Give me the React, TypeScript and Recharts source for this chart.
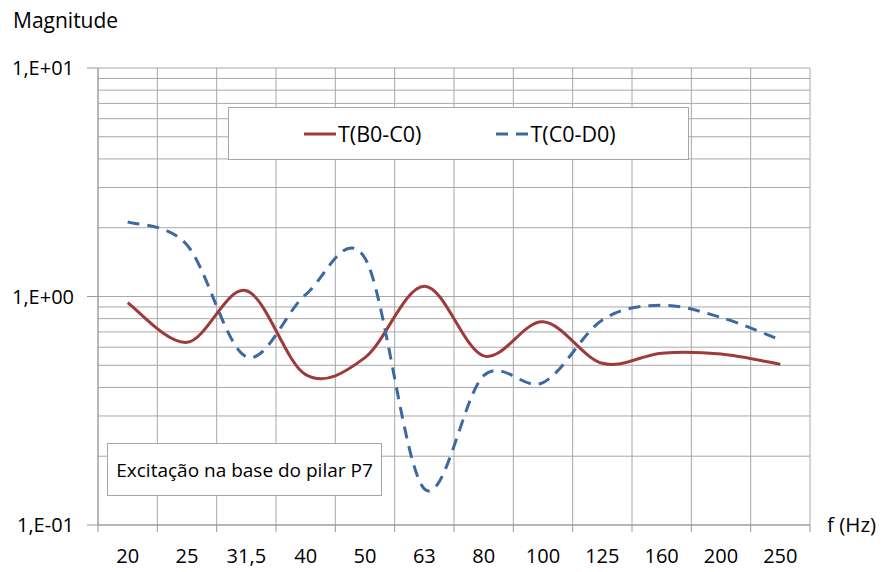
import React from "react";
import { LineChart, Line, XAxis, YAxis, CartesianGrid, Legend } from "recharts";

const categories = ["20", "25", "31,5", "40", "50", "63", "80", "100", "125", "160", "200", "250"];
const seriesBC = [0.94, 0.63, 1.06, 0.455, 0.54, 1.11, 0.55, 0.775, 0.51, 0.565, 0.56, 0.505];
const seriesCD = [2.12, 1.68, 0.545, 1.02, 1.47, 0.144, 0.45, 0.42, 0.79, 0.915, 0.81, 0.645];
const majorTicks = [0.1, 1, 10];
const yTickLabels = ["1,E-01", "1,E+00", "1,E+01"];
const gridValues = [0.1, 0.2, 0.3, 0.4, 0.5, 0.6, 0.7, 0.8, 0.9, 1, 2, 3, 4, 5, 6, 7, 8, 9, 10];
const seriesNames = ["T(B0-C0)", "T(C0-D0)"];
const annotation = "Excitação na base do pilar P7";

const W = 883;
const H = 572;
const M = { top: 68, right: 73, left: 0, bottom: 0 };
const Y_W = 98;
const X_H = 47;
const PLOT_W = W - M.left - M.right - Y_W;
const BAND = PLOT_W / categories.length;
const FONT = "'Open Sans', sans-serif";
const RED = "#9c3b39";
const BLUE = "#3c6aa0";

const data = categories.map((c, i) => ({ x: i + 0.5, cat: c, bc: seriesBC[i], cd: seriesCD[i] }));
const xTicks = categories.map((_, i) => i).concat([categories.length]);

// Excel-like smoothing (Bezier with control points at 1/6 of neighbour span)
function excelCurve(context: any) {
  let pts: number[][] = [];
  return {
    areaStart() {},
    areaEnd() {},
    lineStart() {
      pts = [];
    },
    point(x: number, y: number) {
      pts.push([+x, +y]);
    },
    lineEnd() {
      const n = pts.length;
      if (!n) return;
      context.moveTo(pts[0][0], pts[0][1]);
      for (let i = 0; i < n - 1; i++) {
        const p0 = pts[Math.max(0, i - 1)];
        const p1 = pts[i];
        const p2 = pts[i + 1];
        const p3 = pts[Math.min(n - 1, i + 2)];
        context.bezierCurveTo(
          p1[0] + (p2[0] - p0[0]) / 6,
          p1[1] + (p2[1] - p0[1]) / 6,
          p2[0] - (p3[0] - p1[0]) / 6,
          p2[1] - (p3[1] - p1[1]) / 6,
          p2[0],
          p2[1]
        );
      }
    },
  };
}

const XTick = (props: any) => {
  const { x, y, payload } = props;
  const i = payload.value;
  if (i >= categories.length) return null;
  return (
    <text x={x + BAND / 2} y={y} dy="0.71em" textAnchor="middle" fontFamily={FONT} fontSize={20} fill="#000">
      {categories[i]}
    </text>
  );
};

const YTick = (props: any) => {
  const { x, y, payload } = props;
  const idx = majorTicks.findIndex((t) => Math.abs(t - payload.value) < 1e-9);
  if (idx < 0) return null;
  return (
    <g>
      <line x1={Y_W - 11} x2={Y_W} y1={y} y2={y} stroke="#999" strokeWidth={1} />
      <text x={x} y={y} dy="0.355em" textAnchor="end" fontFamily={FONT} fontSize={20} fill="#000">
        {yTickLabels[idx]}
      </text>
    </g>
  );
};

const LegendContent = (props: any) => {
  const { payload } = props;
  return (
    <div
      style={{
        width: 459,
        height: 51,
        border: "1px solid #a6a6a6",
        background: "#fff",
        display: "flex",
        alignItems: "center",
        fontFamily: FONT,
        fontSize: 21.5,
        color: "#000",
        boxSizing: "content-box",
      }}
    >
      {(payload || []).map((p: any, i: number) => (
        <div key={i} style={{ display: "flex", alignItems: "center", marginLeft: 75 }}>
          <svg width={32} height={10} style={{ marginRight: 2 }}>
            <line
              x1={0}
              x2={32}
              y1={5}
              y2={5}
              stroke={p.color}
              strokeWidth={3}
              strokeDasharray={p.payload && p.payload.strokeDasharray ? "12 8" : undefined}
            />
          </svg>
          <span>{p.value}</span>
        </div>
      ))}
    </div>
  );
};

export default function App() {
  return (
    <div style={{ position: "absolute", left: 0, top: 0, width: W, height: H, background: "#fff" }}>
      <LineChart width={W} height={H} data={data} margin={M}>
        <CartesianGrid stroke="#a8a8a8" vertical={true} horizontal={true} fill="none" />
        <XAxis
          dataKey="x"
          type="number"
          domain={[0, categories.length]}
          ticks={xTicks}
          interval={0}
          height={X_H}
          tickSize={7}
          tickMargin={17}
          axisLine={{ stroke: "#999" }}
          tickLine={{ stroke: "#999" }}
          tick={<XTick />}
        />
        <YAxis
          type="number"
          scale="log"
          domain={[0.1, 10]}
          ticks={gridValues}
          interval={0}
          width={Y_W}
          tickLine={false}
          tickSize={11}
          tickMargin={13}
          axisLine={{ stroke: "#999" }}
          tick={<YTick />}
          allowDataOverflow
        />
        <Legend
          layout="horizontal"
          verticalAlign="middle"
          align="center"
          content={<LegendContent />}
          wrapperStyle={{ position: "absolute", left: 228, top: 107, width: "auto" }}
        />
        <Line
          name={seriesNames[0]}
          dataKey="bc"
          type={excelCurve as any}
          stroke={RED}
          strokeWidth={3}
          dot={false}
          isAnimationActive={false}
        />
        <Line
          name={seriesNames[1]}
          dataKey="cd"
          type={excelCurve as any}
          stroke={BLUE}
          strokeWidth={3}
          strokeDasharray="12 8"
          dot={false}
          isAnimationActive={false}
        />
      </LineChart>
      <div style={{ position: "absolute", left: 13, top: 6, fontFamily: FONT, fontSize: 21, color: "#000", lineHeight: "28px" }}>
        Magnitude
      </div>
      <div style={{ position: "absolute", left: 827, top: 510, fontFamily: FONT, fontSize: 20.5, color: "#000", lineHeight: "28px" }}>
        f (Hz)
      </div>
      <div
        style={{
          position: "absolute",
          left: 107,
          top: 443,
          width: 273,
          height: 51,
          border: "1px solid #a6a6a6",
          background: "#fff",
          fontFamily: FONT,
          fontSize: 19,
          color: "#000",
          display: "flex",
          alignItems: "center",
          justifyContent: "center",
        }}
      >
        {annotation}
      </div>
    </div>
  );
}
